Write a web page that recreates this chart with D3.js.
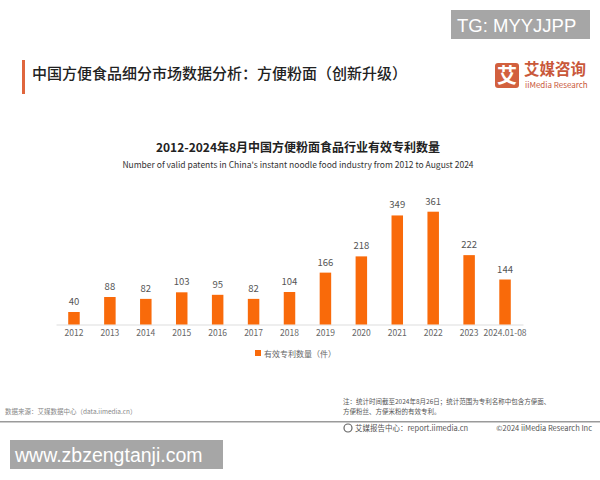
<!DOCTYPE html>
<html>
<head>
    <meta charset="utf-8">
    <title>方便粉面有效专利数量</title>
    <script type="text/javascript" src="https://d3js.org/d3.v7.min.js"></script>
    <style>
        body { margin: 0; background: #fff; }
        svg { display: block; font-family: "Noto Sans CJK SC", "Noto Sans", sans-serif; }
    </style>
</head>
<body>
<script type="text/javascript">
    var w = 600;
    var h = 480;

    // data
    var years = ["2012", "2013", "2014", "2015", "2016", "2017", "2018",
                 "2019", "2020", "2021", "2022", "2023", "2024.01-08"];
    var patents = [40, 88, 82, 103, 95, 82, 104, 166, 218, 349, 361, 222, 144];

    var barColor = "#f96a0a";
    var textGray = "#666";

    var svg = d3.select("body").append("svg").attr("width", w).attr("height", h);

    // header
    svg.append("rect").attr("x", 22).attr("y", 60).attr("width", 3).attr("height", 34).attr("fill", "#e0663d");
    svg.append("text").attr("x", 32).attr("y", 79)
        .attr("font-size", 15).attr("font-weight", 500).attr("fill", "#222")
        .text("中国方便食品细分市场数据分析：方便粉面（创新升级）");

    // logo
    svg.append("rect").attr("x", 495).attr("y", 63).attr("width", 24).attr("height", 25)
        .attr("rx", 3).attr("fill", "#d2603e");
    svg.append("text").attr("x", 507).attr("y", 82.5).attr("text-anchor", "middle")
        .attr("font-size", 20).attr("font-weight", 700).attr("fill", "#fff").text("艾");
    svg.append("text").attr("x", 524).attr("y", 75)
        .attr("font-size", 15.5).attr("font-weight", 700).attr("fill", "#c9583a").text("艾媒咨询");
    svg.append("text").attr("x", 525).attr("y", 88)
        .attr("font-size", 8).attr("fill", "#c9583a").text("iiMedia Research");

    // chart titles
    svg.append("text").attr("x", 298).attr("y", 152).attr("text-anchor", "middle")
        .attr("font-size", 12).attr("font-weight", 700).attr("fill", "#222")
        .text("2012-2024年8月中国方便粉面食品行业有效专利数量");
    svg.append("text").attr("x", 298).attr("y", 168).attr("text-anchor", "middle")
        .attr("font-size", 8.5).attr("fill", "#333")
        .text("Number of valid patents in China's instant noodle food industry from 2012 to August 2024");

    // scales
    var xScale = d3.scaleBand().domain(years).range([56, 523]).paddingInner(0.68).paddingOuter(0.34);
    var yScale = d3.scaleLinear().domain([0, 361]).range([324.5, 211.7]);

    var xAxis = svg.append("g").attr("transform", "translate(0," + 324.5 + ")")
        .call(d3.axisBottom(xScale).tickSize(0).tickPadding(5));
    xAxis.select(".domain").attr("stroke", "#ddd");
    xAxis.selectAll("text").attr("font-size", 8.5).attr("fill", textGray)
        .attr("font-family", "'Noto Sans CJK SC', sans-serif");

    svg.selectAll("rect.bar")
        .data(patents)
        .enter()
        .append("rect")
        .attr("class", "bar")
        .attr("x", function(d, i) { return xScale(years[i]); })
        .attr("y", function(d) { return yScale(d); })
        .attr("width", xScale.bandwidth())
        .attr("height", function(d) { return yScale(0) - yScale(d); })
        .attr("fill", barColor);

    svg.selectAll("text.val")
        .data(patents)
        .enter()
        .append("text")
        .attr("class", "val")
        .attr("x", function(d, i) { return xScale(years[i]) + xScale.bandwidth() / 2; })
        .attr("y", function(d) { return yScale(d) - 7; })
        .attr("text-anchor", "middle")
        .attr("font-size", 9.5)
        .attr("fill", "#555")
        .text(function(d) { return d; });

    // legend
    svg.append("rect").attr("x", 255).attr("y", 350).attr("width", 6).attr("height", 6).attr("fill", barColor);
    svg.append("text").attr("x", 264).attr("y", 356.5)
        .attr("font-size", 8).attr("fill", textGray).text("有效专利数量（件）");

    // footer
    svg.append("text").attr("x", 5).attr("y", 414)
        .attr("font-size", 6.5).attr("fill", "#888").text("数据来源：艾媒数据中心（data.iimedia.cn）");
    svg.append("text").attr("x", 343).attr("y", 404)
        .attr("font-size", 6.5).attr("fill", "#555").text("注：统计时间截至2024年8月26日；统计范围为专利名称中包含方便面、");
    svg.append("text").attr("x", 343).attr("y", 414)
        .attr("font-size", 6.5).attr("fill", "#555").text("方便粉丝、方便米粉的有效专利。");
    svg.append("rect").attr("x", 0).attr("y", 421).attr("width", 600).attr("height", 1.5).attr("fill", "#9a9a9a");
    svg.append("circle").attr("cx", 348).attr("cy", 428).attr("r", 4).attr("fill", "none").attr("stroke", "#666").attr("stroke-width", 1.2);
    svg.append("text").attr("x", 355).attr("y", 431)
        .attr("font-size", 7.5).attr("fill", "#555").text("艾媒报告中心：report.iimedia.cn");
    svg.append("text").attr("x", 592).attr("y", 431).attr("text-anchor", "end")
        .attr("font-size", 7.5).attr("fill", "#555").text("©2024  iiMedia Research Inc");

    // watermarks
    svg.append("rect").attr("x", 451).attr("y", 10).attr("width", 139).attr("height", 29).attr("fill", "#a6a6a6");
    svg.append("text").attr("x", 457).attr("y", 31.5)
        .attr("font-family", "'Liberation Sans', Arial, sans-serif")
        .attr("font-size", 18.5).attr("fill", "#fff").text("TG: MYYJJPP");
    svg.append("rect").attr("x", 10).attr("y", 440).attr("width", 213).attr("height", 29).attr("fill", "#a6a6a6");
    svg.append("text").attr("x", 15).attr("y", 461.5)
        .attr("font-family", "'Liberation Sans', Arial, sans-serif")
        .attr("font-size", 19.5).attr("fill", "#fff").text("www.zbzengtanji.com");
</script>
</body>
</html>
